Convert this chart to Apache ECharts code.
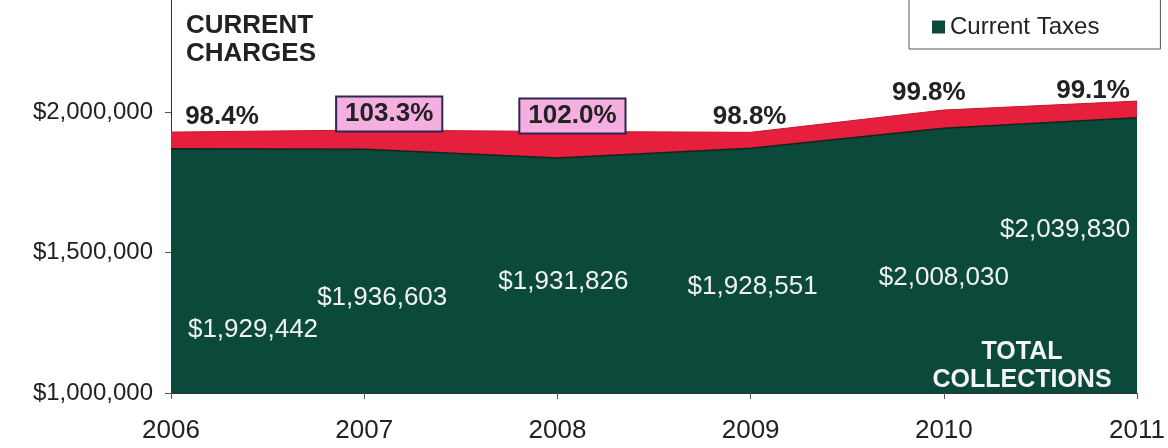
<!DOCTYPE html>
<html><head><meta charset="utf-8">
<script src="https://cdn.jsdelivr.net/npm/echarts@6/dist/echarts.min.js"></script>
<style>html,body{margin:0;padding:0;background:#fff}#c{width:1168px;height:448px}</style>
</head><body><div id="c"></div>
<script>
// ---- data ----
const years = ['2006', '2007', '2008', '2009', '2010', '2011'];
const currentTaxes = [1870442, 1868603, 1836826, 1871551, 1943030, 1980830];
const otherCollections = [59000, 68000, 95000, 57000, 65000, 59000];
const totalCollections = [1929442, 1936603, 1931826, 1928551, 2008030, 2039830];
const collectionRates = [98.4, 103.3, 102.0, 98.8, 99.8, 99.1];
const yTickValues = [1000000, 1500000, 2000000];

// ---- label layout (pixel placement only) ----
const totalLabelDx = [82, 18, 6, 2, 0, -72];
const totalLabelY = [330, 298, 282, 287, 278, 230];
const rateLabelDx = [51, 25, 15, -1, -15, -44];
const rateLabelY = [117, 114, 116, 117, 93, 91];
const rateBoxed = [false, true, true, false, false, false];

const FONT = "'Liberation Sans', Arial, sans-serif";
const GREEN = '#0b4a3b';
const RED = '#e61f3d';

const chart = echarts.init(document.getElementById('c'), null, {renderer: 'canvas'});
const fmtMoney = v => '$' + Math.round(v).toLocaleString('en-US');

chart.setOption({
  animation: false,
  backgroundColor: '#ffffff',
  grid: {left: 171, right: 30, top: 0, bottom: 55, containLabel: false},
  legend: {
    data: ['Current Taxes'],
    left: 909, top: -20,
    padding: [35, 61, 10, 23],
    icon: 'rect', itemWidth: 13, itemHeight: 13,
    borderColor: '#555', borderWidth: 1,
    textStyle: {fontSize: 24, color: '#222', fontFamily: FONT}
  },
  xAxis: {
    type: 'category', data: years, boundaryGap: false,
    axisLine: {lineStyle: {color: '#333', width: 1}},
    axisTick: {show: true, length: 6, lineStyle: {color: '#555'}},
    axisLabel: {fontSize: 26, color: '#222', margin: 25, interval: 0, fontFamily: FONT}
  },
  yAxis: {
    type: 'value', min: 1000000, max: 2400000, interval: 500000,
    axisLine: {show: true, lineStyle: {color: '#333', width: 1}},
    axisTick: {show: true, length: 6, lineStyle: {color: '#555'}},
    splitLine: {show: false},
    axisLabel: {
      fontSize: 24, color: '#222', margin: 18, fontFamily: FONT,
      showMaxLabel: false,
      formatter: v => yTickValues.indexOf(v) >= 0 ? fmtMoney(v) : ''
    }
  },
  series: [
    {
      name: 'Current Taxes', type: 'line', stack: 'total', data: currentTaxes,
      symbol: 'none', itemStyle: {color: GREEN},
      lineStyle: {width: 1.5, color: '#10251d'},
      areaStyle: {color: GREEN, opacity: 1}
    },
    {
      name: 'Other Collections', type: 'line', stack: 'total', data: otherCollections,
      symbol: 'none', itemStyle: {color: RED},
      lineStyle: {width: 1, color: '#c8182f'},
      areaStyle: {color: RED, opacity: 1}
    }
  ]
});

const graphics = [];
graphics.push({
  type: 'text', x: 186, y: 12, z: 100,
  style: {text: 'CURRENT\nCHARGES', font: 'bold 26px ' + FONT, fill: '#222', lineHeight: 28, textAlign: 'left', textVerticalAlign: 'top'}
});
years.forEach((yr, i) => {
  const px = chart.convertToPixel({xAxisIndex: 0}, yr);
  graphics.push({
    type: 'text', x: px + totalLabelDx[i], y: totalLabelY[i], z: 100,
    style: {text: fmtMoney(totalCollections[i]), font: '26px ' + FONT, fill: '#f2f2f2', textAlign: 'center', textVerticalAlign: 'middle'}
  });
  const rs = {
    text: collectionRates[i].toFixed(1) + '%', font: 'bold 26px ' + FONT, fill: '#222',
    textAlign: 'center', textVerticalAlign: 'middle'
  };
  if (rateBoxed[i]) {
    rs.backgroundColor = '#f4aee0';
    rs.borderColor = '#2e2550';
    rs.borderWidth = 2;
    rs.padding = [4, 8, 3, 8];
  }
  graphics.push({type: 'text', x: px + rateLabelDx[i], y: rateLabelY[i], z: 100, style: rs});
});
graphics.push({
  type: 'text', x: 1022, y: 366, z: 100,
  style: {text: 'TOTAL\nCOLLECTIONS', font: 'bold 25px ' + FONT, fill: '#f5f5f5', lineHeight: 28, textAlign: 'center', textVerticalAlign: 'middle'}
});
chart.setOption({graphic: graphics});
</script>
</body></html>
